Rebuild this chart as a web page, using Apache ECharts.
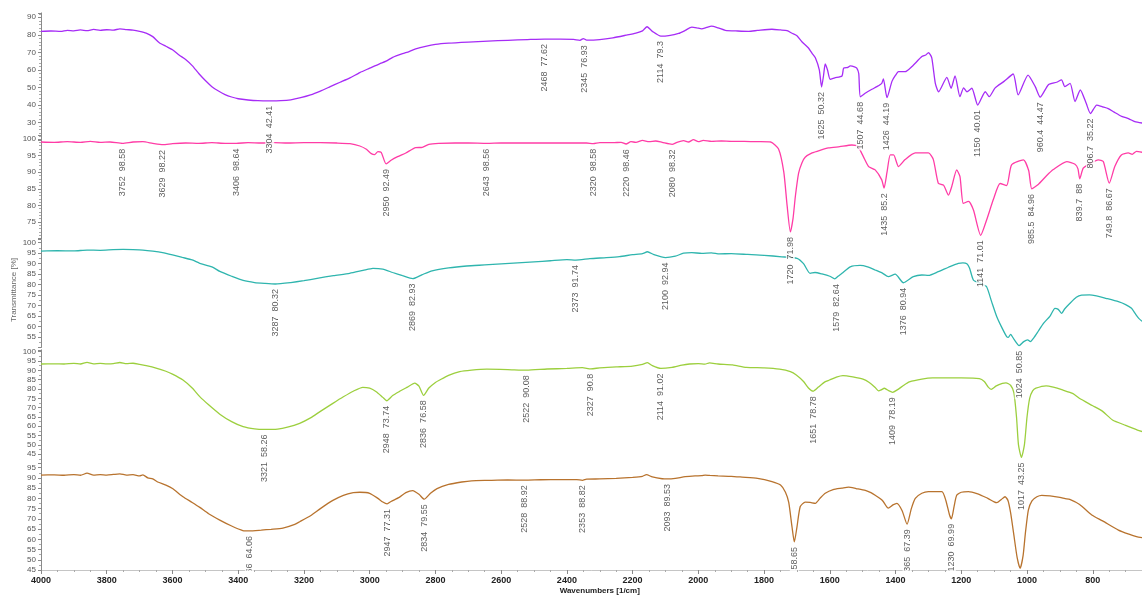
<!DOCTYPE html>
<html><head><meta charset="utf-8">
<script src="https://cdn.jsdelivr.net/npm/echarts@6/dist/echarts.min.js"></script>
<style>html,body{margin:0;padding:0;background:#fff}#c{width:1142px;height:596px}</style>
</head><body><div id="c"></div>
<script>
// ---- spectra: [wavenumber (1/cm), transmittance (%)] ----
const sampleA = [[4000,82.0],[3970,82.2],[3940,82.0],[3920,82.6],[3900,82.3],[3880,82.8],[3860,82.4],[3840,83.1],[3820,82.6],[3800,82.9],[3780,82.7],[3760,83.4],[3740,83.0],[3720,82.7],[3700,82.0],[3680,81.0],[3660,79.0],[3640,75.5],[3620,73.5],[3600,71.5],[3580,68.5],[3560,66.0],[3540,62.5],[3520,58.0],[3500,54.0],[3480,50.5],[3460,48.0],[3440,46.0],[3420,44.6],[3400,43.6],[3370,42.9],[3340,42.5],[3304,42.4],[3270,42.5],[3240,43.0],[3210,44.2],[3180,45.8],[3150,48.0],[3120,50.5],[3090,53.0],[3060,55.5],[3030,58.5],[3000,61.0],[2970,63.5],[2950,65.0],[2930,67.2],[2900,69.3],[2880,70.5],[2860,72.0],[2830,73.5],[2800,74.6],[2760,75.3],[2700,75.9],[2640,76.4],[2580,76.9],[2520,77.3],[2468,77.6],[2420,77.6],[2380,77.4],[2360,76.9],[2350,77.9],[2340,77.0],[2300,77.3],[2260,78.3],[2220,79.8],[2190,81.0],[2170,82.3],[2156,84.6],[2140,82.0],[2114,79.3],[2090,79.6],[2060,80.8],[2040,82.5],[2020,84.4],[2005,84.0],[1990,83.4],[1975,84.2],[1960,85.0],[1940,84.0],[1918,82.6],[1880,82.2],[1847,82.0],[1820,82.5],[1776,83.2],[1750,82.8],[1730,82.4],[1715,80.9],[1700,79.5],[1685,76.1],[1665,72.5],[1654,69.5],[1644,67.0],[1632,60.0],[1625,50.3],[1619,57.0],[1614,63.4],[1607,60.0],[1599,54.7],[1585,55.5],[1563,56.6],[1558,61.0],[1545,61.5],[1538,62.3],[1525,61.8],[1518,61.0],[1512,58.0],[1507,44.7],[1490,47.0],[1472,49.0],[1457,50.5],[1442,52.4],[1437,54.9],[1426,44.2],[1411,53.5],[1400,57.0],[1391,59.0],[1371,59.0],[1350,62.0],[1320,67.6],[1308,68.5],[1300,69.9],[1290,67.0],[1279,52.4],[1269,47.6],[1244,55.8],[1231,49.6],[1219,56.6],[1204,44.8],[1193,49.8],[1183,47.6],[1168,49.6],[1150,40.0],[1127,47.6],[1115,44.8],[1097,49.8],[1070,53.5],[1042,57.7],[1027,45.8],[997,57.1],[975,50.5],[960,44.5],[935,51.6],[910,53.0],[895,54.3],[885,50.5],[869,52.4],[854,42.0],[838,48.6],[820,41.0],[807,35.2],[788,40.0],[770,39.0],[753,38.0],[735,36.0],[712,33.6],[690,32.2],[672,30.6],[650,29.8]];

const sampleB = [[4000,99.1],[3960,99.0],[3920,99.2],[3880,99.0],[3850,99.3],[3820,99.0],[3790,99.1],[3752,98.7],[3720,99.1],[3690,99.2],[3660,98.7],[3629,98.3],[3600,98.6],[3560,98.8],[3520,98.7],[3480,98.9],[3440,98.7],[3406,98.7],[3370,98.9],[3330,98.8],[3290,98.9],[3250,98.8],[3200,98.9],[3150,98.9],[3100,98.8],[3060,98.6],[3030,97.9],[3010,96.9],[2995,95.6],[2985,95.3],[2975,96.2],[2965,96.0],[2950,92.5],[2935,93.6],[2915,94.7],[2890,95.8],[2860,97.4],[2840,97.5],[2820,98.4],[2790,98.7],[2740,98.8],[2700,98.8],[2643,98.7],[2600,98.8],[2500,98.8],[2400,98.8],[2340,98.8],[2320,98.6],[2300,98.9],[2260,98.9],[2235,99.0],[2220,98.5],[2205,99.2],[2190,99.0],[2170,99.6],[2150,99.2],[2130,99.4],[2110,99.0],[2080,98.4],[2065,99.0],[2045,99.5],[2030,99.1],[2015,99.8],[2000,99.2],[1985,99.6],[1960,99.3],[1930,99.4],[1900,99.3],[1860,99.3],[1820,99.2],[1780,99.1],[1756,97.0],[1740,90.0],[1730,80.0],[1720,72.0],[1712,76.0],[1705,82.6],[1695,89.7],[1685,92.8],[1675,94.5],[1654,95.8],[1630,96.6],[1604,97.3],[1570,97.7],[1533,98.2],[1515,97.8],[1498,94.7],[1482,91.7],[1462,90.7],[1442,87.7],[1435,85.2],[1426,90.0],[1416,95.2],[1406,95.2],[1391,91.7],[1371,93.8],[1340,95.8],[1300,95.8],[1285,93.8],[1270,86.7],[1254,86.1],[1239,83.1],[1229,85.7],[1214,90.7],[1204,88.7],[1194,80.6],[1178,81.2],[1163,78.6],[1141,71.0],[1123,75.6],[1102,81.9],[1082,86.6],[1062,86.0],[1047,92.2],[1011,93.7],[995,90.5],[985.5,85.0],[966,86.3],[940,89.0],[920,90.8],[879,93.2],[854,92.4],[845,91.0],[839.7,88.0],[829,91.2],[810,92.5],[783,93.7],[768,93.2],[749.8,86.7],[733,91.7],[713,95.2],[692,95.8],[680,95.4],[667,96.3],[650,96.0]];

const sampleC = [[4000,96.0],[3950,96.2],[3900,96.1],[3860,96.5],[3820,96.4],[3780,96.7],[3750,96.8],[3720,96.7],[3690,96.5],[3660,96.0],[3630,95.3],[3600,94.2],[3570,93.0],[3540,91.8],[3517,90.2],[3480,88.5],[3456,86.3],[3420,84.0],[3385,82.0],[3350,81.0],[3320,80.6],[3287,80.3],[3240,81.0],[3200,81.9],[3160,83.0],[3110,84.3],[3061,85.4],[3020,86.8],[2990,87.8],[2960,87.4],[2930,85.8],[2900,84.3],[2869,82.9],[2840,84.8],[2810,86.6],[2760,88.0],[2705,88.9],[2650,89.4],[2600,89.9],[2550,90.4],[2500,90.9],[2450,91.4],[2400,91.9],[2373,91.7],[2330,92.4],[2280,92.9],[2240,93.4],[2200,94.3],[2170,94.8],[2155,95.7],[2135,94.3],[2100,92.9],[2070,93.6],[2045,95.0],[2020,95.3],[1990,94.9],[1960,95.2],[1936,94.7],[1900,94.8],[1850,94.4],[1800,94.0],[1746,93.3],[1700,92.5],[1680,90.0],[1660,85.4],[1645,85.8],[1624,85.1],[1600,84.0],[1585,82.8],[1575,84.0],[1563,85.4],[1538,88.5],[1508,89.2],[1485,88.5],[1462,87.0],[1440,85.5],[1422,83.8],[1401,85.0],[1376,80.9],[1346,83.8],[1320,84.6],[1300,84.4],[1270,86.2],[1239,88.3],[1209,90.2],[1195,90.4],[1183,90.0],[1175,88.0],[1163,82.2],[1140,80.5],[1123,79.0],[1108,72.0],[1092,64.7],[1075,59.0],[1062,55.2],[1057,54.8],[1050,56.3],[1040,54.0],[1024,50.9],[1010,52.8],[998,53.6],[990,52.8],[980,54.5],[965,58.0],[950,61.5],[930,65.0],[915,68.7],[905,68.2],[895,66.3],[885,68.5],[870,71.0],[850,74.0],[834,75.0],[810,75.1],[793,74.8],[760,73.5],[722,71.9],[700,70.5],[682,68.7],[670,66.0],[660,63.9],[650,62.5]];

const sampleD = [[4000,93.4],[3960,93.5],[3930,93.4],[3900,93.7],[3880,93.4],[3860,94.3],[3840,93.5],[3820,93.7],[3800,93.5],[3780,93.6],[3760,94.2],[3740,93.6],[3720,93.8],[3700,93.2],[3680,92.5],[3650,91.2],[3620,89.5],[3600,88.0],[3568,84.8],[3540,80.5],[3517,75.9],[3490,71.5],[3456,66.5],[3420,62.5],[3385,59.8],[3350,58.6],[3321,58.3],[3280,58.5],[3250,59.5],[3213,61.6],[3180,64.5],[3150,68.0],[3112,72.3],[3080,75.8],[3050,78.8],[3021,80.9],[3000,80.4],[2980,78.5],[2960,75.5],[2948,73.7],[2930,76.5],[2910,78.6],[2885,81.0],[2863,83.1],[2850,81.5],[2836,76.6],[2820,80.5],[2800,83.5],[2787,84.8],[2760,87.3],[2726,89.3],[2690,90.1],[2644,90.6],[2580,90.4],[2522,90.1],[2460,90.7],[2400,91.0],[2353,91.4],[2327,90.8],[2300,91.3],[2250,91.8],[2200,92.3],[2170,93.2],[2155,94.1],[2140,92.5],[2114,91.0],[2080,91.6],[2050,92.8],[2027,93.4],[2000,93.6],[1980,93.3],[1966,94.0],[1940,93.4],[1896,92.9],[1854,91.6],[1800,91.3],[1753,90.6],[1720,89.3],[1702,87.5],[1680,84.0],[1665,80.5],[1651,78.8],[1635,81.0],[1615,83.8],[1601,84.8],[1580,86.4],[1560,87.2],[1530,86.5],[1499,85.3],[1480,83.5],[1462,80.8],[1452,79.0],[1444,79.5],[1434,80.4],[1420,79.0],[1409,78.2],[1395,79.5],[1375,82.0],[1358,83.8],[1320,85.3],[1287,85.9],[1200,85.9],[1145,85.6],[1130,84.0],[1118,81.0],[1109,79.8],[1095,81.5],[1075,83.0],[1064,83.3],[1050,82.0],[1040,78.0],[1032,65.0],[1026,50.0],[1017,43.3],[1008,50.0],[1000,65.0],[992,75.0],[983,79.0],[973,80.4],[942,81.7],[920,81.0],[892,79.5],[860,77.5],[841,75.0],[800,71.0],[770,68.0],[740,63.4],[700,60.5],[664,58.0],[650,57.2]];

const sampleE = [[4000,91.4],[3960,91.5],[3930,91.3],[3900,91.6],[3880,91.3],[3860,92.3],[3840,91.4],[3820,91.6],[3800,91.4],[3780,91.7],[3760,92.0],[3740,91.4],[3720,91.6],[3700,91.0],[3690,91.5],[3675,90.0],[3660,89.5],[3645,88.0],[3620,86.5],[3600,84.8],[3568,80.8],[3540,78.0],[3517,75.6],[3490,72.5],[3456,69.4],[3420,66.5],[3386,64.3],[3366,64.1],[3330,64.5],[3300,64.9],[3264,65.5],[3230,67.2],[3213,68.6],[3180,71.5],[3150,75.0],[3112,79.0],[3080,81.5],[3050,82.8],[3030,83.0],[3000,82.5],[2975,80.0],[2960,78.2],[2947,77.3],[2935,78.5],[2910,80.5],[2890,82.8],[2869,83.8],[2850,82.0],[2834,79.6],[2815,82.5],[2795,84.8],[2760,86.8],[2720,88.0],[2690,88.6],[2640,88.8],[2580,89.0],[2528,88.9],[2480,89.1],[2420,89.2],[2370,89.2],[2353,88.8],[2340,89.4],[2300,89.5],[2250,89.8],[2200,90.3],[2170,90.8],[2158,91.6],[2140,90.5],[2110,89.6],[2093,89.5],[2070,89.8],[2040,90.6],[2010,91.0],[1990,91.1],[1979,91.4],[1965,91.2],[1940,91.0],[1900,90.8],[1867,90.4],[1820,89.8],[1776,88.2],[1750,86.5],[1735,83.0],[1725,78.0],[1715,66.0],[1708,58.7],[1700,66.0],[1690,76.0],[1675,78.2],[1660,78.0],[1644,77.6],[1630,80.0],[1614,82.5],[1590,84.3],[1563,85.0],[1543,85.5],[1520,84.8],[1492,83.9],[1475,82.8],[1462,81.5],[1440,79.0],[1422,75.2],[1408,76.8],[1396,77.6],[1380,74.0],[1365,67.4],[1352,75.0],[1340,80.0],[1320,82.5],[1300,83.3],[1259,83.3],[1247,79.0],[1236,72.0],[1230,70.0],[1222,76.0],[1214,81.5],[1200,83.0],[1178,83.3],[1150,82.2],[1130,80.8],[1118,79.9],[1100,78.3],[1092,77.9],[1078,79.5],[1067,80.8],[1058,79.0],[1050,73.0],[1040,62.0],[1030,51.0],[1021,45.8],[1012,52.0],[1005,63.0],[996,74.3],[985,78.8],[970,80.8],[955,81.5],[930,81.2],[900,80.5],[884,79.9],[870,79.5],[840,77.0],[803,71.9],[770,69.0],[722,64.5],[690,62.5],[667,61.3],[650,60.8]];

// ---- peak picks: [wavenumber, transmittance] ----
const peaksA = [[3304,42.41],[2468,77.62],[2345,76.93],[2114,79.3],[1625,50.32],[1507,44.68],[1426,44.19],[1150,40.01],[960.4,44.47],[806.7,35.22]];
const peaksB = [[3752,98.58],[3629,98.22],[3406,98.64],[2950,92.49],[2643,98.56],[2320,98.58],[2220,98.46],[2080,98.32],[1720,71.98],[1435,85.2],[1141,71.01],[985.5,84.96],[839.7,88],[749.8,86.67]];
const peaksC = [[3287,80.32],[2869,82.93],[2373,91.74],[2100,92.94],[1579,82.64],[1376,80.94],[1024,50.85]];
const peaksD = [[3321,58.26],[2948,73.74],[2836,76.58],[2522,90.08],[2327,90.8],[2114,91.02],[1651,78.78],[1409,78.19],[1017,43.25]];
const peaksE = [[3366,64.06],[2947,77.31],[2834,79.55],[2528,88.92],[2353,88.82],[2093,89.53],[1708,58.65],[1365,67.39],[1230,69.99]];

// ---- axis ticks ----
const xTicks = {min: 600, max: 4000, interval: 200};
const yTicksA = {min: 20, max: 92.5, interval: 10, lo: 30, hi: 90};
const yTicksB = {min: 70, max: 101, interval: 5, lo: 75, hi: 100};
const yTicksC = {min: 50, max: 101.5, interval: 5, lo: 55, hi: 100};
const yTicksD = {min: 40, max: 101, interval: 5, lo: 45, hi: 100};
const yTicksE = {min: 45, max: 97, interval: 5, lo: 45, hi: 95};

// ---- layout / style ----
const panels = [
  {data: sampleA, peaks: peaksA, ticks: yTicksA, color: '#a62cf6', top: 12.9, height: 127.3, minor: 5},
  {data: sampleB, peaks: peaksB, ticks: yTicksB, color: '#ff3ca6', top: 135.7, height: 102.9, minor: 5},
  {data: sampleC, peaks: peaksC, ticks: yTicksC, color: '#2fb5ae', top: 239.6, height: 107.9, minor: 2},
  {data: sampleD, peaks: peaksD, ticks: yTicksD, color: '#9ccf3e', top: 349.8, height: 113.8, minor: 2},
  {data: sampleE, peaks: peaksE, ticks: yTicksE, color: '#b8732e', top: 463.6, height: 106.4, minor: 2}
];
const FONT = 'Liberation Sans, Arial, sans-serif';
const GRID_LEFT = 41, GRID_WIDTH = 1117.5;
const grids = [], xAxes = [], yAxes = [], series = [];
panels.forEach((p, i) => {
  grids.push({left: GRID_LEFT, width: GRID_WIDTH, top: p.top, height: p.height, containLabel: false, outerBoundsMode: 'none'});
  xAxes.push({
    type: 'value', gridIndex: i, position: 'bottom', min: xTicks.min, max: xTicks.max, interval: xTicks.interval,
    inverse: true, show: i === 4, z: 0,
    axisLine: {show: true, lineStyle: {color: '#8a8a8a', width: 1}},
    axisTick: {show: false}, axisLabel: {show: false}, splitLine: {show: false}
  });
  const t = p.ticks;
  yAxes.push({
    type: 'value', gridIndex: i, position: 'left', min: t.min, max: t.max, interval: t.interval,
    axisLine: {show: true, lineStyle: {color: '#8a8a8a', width: 1}},
    axisTick: {show: true, length: 3, lineStyle: {color: '#8a8a8a'}},
    minorTick: {show: true, splitNumber: p.minor, length: 2, lineStyle: {color: '#aaa'}},
    splitLine: {show: false}, minorSplitLine: {show: false},
    axisLabel: {
      fontSize: 8, color: '#555', fontFamily: FONT, margin: 5,
      formatter: v => {
        const k = v / t.interval;
        return (v >= t.lo - 1e-6 && v <= t.hi + 1e-6 && Math.abs(k - Math.round(k)) < 1e-6) ? String(Math.round(v)) : '';
      }
    }
  });
  series.push({
    type: 'line', xAxisIndex: i, yAxisIndex: i, data: p.data,
    showSymbol: false, symbol: 'none', smooth: 0.2, z: 2,
    lineStyle: {color: p.color, width: 1.3}, silent: true
  });
  series.push({
    type: 'scatter', xAxisIndex: i, yAxisIndex: i, symbolSize: 0, z: 10, silent: true,
    data: p.peaks.map(q => ({value: q, name: q[0] + '  ' + q[1]})),
    label: {
      show: true, formatter: '{b}', position: 'bottom', distance: 4, rotate: 90,
      align: 'right', verticalAlign: 'middle', color: '#333', fontSize: 9, fontFamily: FONT,
      backgroundColor: '#fff', padding: [0, 1]
    }
  });
});
// label-only bottom axis, drawn above the bottom mask
xAxes.push({
  type: 'value', gridIndex: 4, position: 'bottom', min: xTicks.min, max: xTicks.max, interval: xTicks.interval,
  inverse: true, z: 100,
  axisLine: {show: false},
  axisTick: {show: true, length: 4, lineStyle: {color: '#8a8a8a'}},
  minorTick: {show: true, splitNumber: 4, length: 2, lineStyle: {color: '#aaa'}},
  splitLine: {show: false}, minorSplitLine: {show: false},
  axisLabel: {fontSize: 9, fontWeight: 'bold', color: '#222', fontFamily: FONT, margin: 6,
              showMinLabel: false, showMaxLabel: true, formatter: v => String(v)},
  name: 'Wavenumbers [1/cm]', nameLocation: 'middle', nameGap: 17,
  nameTextStyle: {fontSize: 8, fontWeight: 'bold', color: '#222', fontFamily: FONT}
});

const chart = echarts.init(document.getElementById('c'));
chart.setOption({
  animation: false,
  backgroundColor: '#fff',
  grid: grids, xAxis: xAxes, yAxis: yAxes, series: series,
  graphic: [
    {type: 'rect', z: 50, silent: true, shape: {x: 41.5, y: 570.6, width: 1101, height: 30}, style: {fill: '#fff'}},
    {type: 'text', z: 60, silent: true, x: 14, y: 290, rotation: Math.PI / 2,
     style: {text: 'Transmittance [%]', fill: '#666', font: '8px Liberation Sans', align: 'center', verticalAlign: 'middle'}}
  ]
});
</script>
</body></html>
